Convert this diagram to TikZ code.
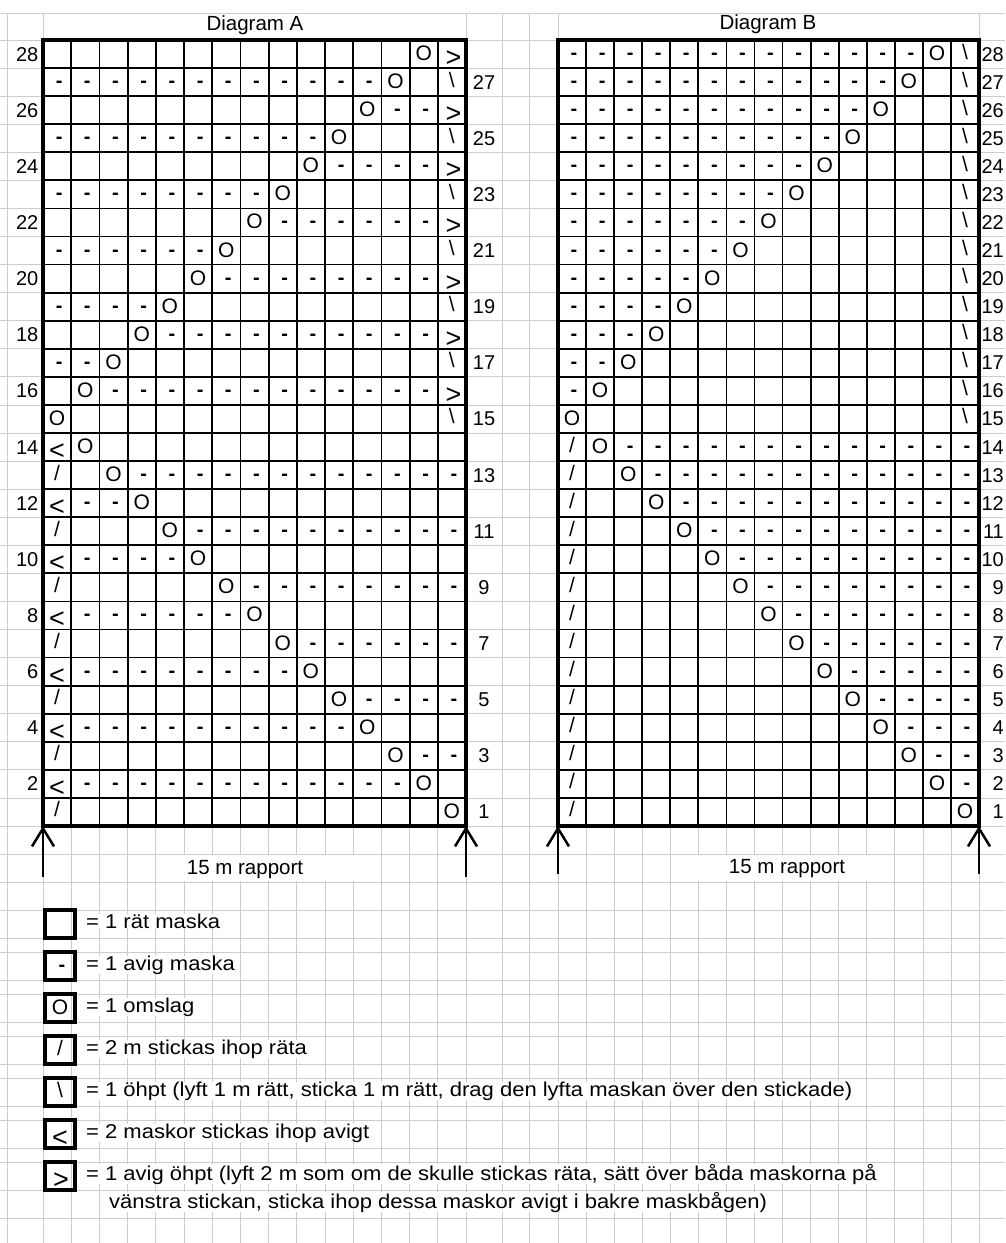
\documentclass[tikz,border=0pt]{standalone}
\usepackage{fontspec}
\setmainfont{Liberation Sans}
\newfontfamily\legfont[FakeStretch=1.1]{Liberation Sans}
\usetikzlibrary{arrows.meta}
\begin{document}
\begin{tikzpicture}[x=1pt,y=-1pt,
  bgline/.style={draw=black!20,line width=0.7pt},
  cellline/.style={line width=1.8pt},
  chartframe/.style={line width=4pt},
  symo/.style={inner sep=0pt,anchor=base,font=\fontsize{21}{21}\selectfont},
  symdash/.style={inner sep=0pt,anchor=base,font=\fontsize{20}{20}\selectfont\bfseries},
  symbig/.style={inner sep=0pt,anchor=base,font=\fontsize{27}{27}\selectfont},
  rowlbl/.style={inner sep=0pt,font=\fontsize{20}{20}\selectfont},
  titletxt/.style={inner sep=0pt,anchor=base,font=\fontsize{20.5}{20.5}\selectfont},
  legtxt/.style={inner sep=0pt,anchor=base west,font=\legfont\fontsize{20}{20}\selectfont,fill=white},
  legbox/.style={draw,line width=3.5pt,minimum width=30pt,minimum height=28pt,inner sep=0pt},
  repeatarrow/.style={line width=2.5pt,-{Straight Barb[length=18pt,width=22pt]}},
]
\useasboundingbox (0,0) rectangle (1005,1243);
\fill[white] (0,0) rectangle (1005,1243);
% ---------- background graph paper ----------
\foreach \x in {7,502,529} \draw[bgline] (\x,13) -- (\x,1243);
\foreach \x in {43,466,558,979} \draw[bgline] (\x,13) -- (\x,40);
\foreach \k in {0,...,15}{
  \draw[bgline] ({43+\k*28.2},40) -- ({43+\k*28.2},1243);
  \draw[bgline] ({558+\k*28.07},40) -- ({558+\k*28.07},1243);
}
\draw[bgline] (0,13) -- (1005,13);
\foreach \k in {0,...,28} \draw[bgline] (0,{40+\k*28.07}) -- (1005,{40+\k*28.07});
\foreach \y in {854,882,910,938,952,980,994,1022,1036,1064,1078,1106,1120,1148,1162,1190,1218}
  \draw[bgline] (0,\y) -- (1005,\y);
\fill[white] (156.5,854.6) rectangle (380.8,881.4);
\fill[white] (670.8,854.6) rectangle (894.3,881.4);
% ---------- titles ----------
\node[titletxt] (titleA) at (255,30.5) {Diagram A};
\node[titletxt] (titleB) at (768,29.5) {Diagram B};
% ---------- chart grids ----------
\foreach \k in {1,...,14}{
  \draw[cellline] ({43+\k*28.2},40) -- ({43+\k*28.2},826);
  \draw[cellline] ({558+\k*28.07},40) -- ({558+\k*28.07},826);
}
\foreach \k in {1,...,27}{
  \draw[cellline] (43,{40+\k*28.07}) -- (466,{40+\k*28.07});
  \draw[cellline] (558,{40+\k*28.07}) -- (979,{40+\k*28.07});
}
\draw[chartframe] (43,40) rectangle (466,826);
\draw[chartframe] (558,40) rectangle (979,826);
% ---------- Diagram A symbols ----------
\foreach \rr in {1,...,28}{
  \pgfmathsetmacro\yb{40+(29-\rr)*28.07}
  \foreach \cc in {1,...,15}{
    \pgfmathsetmacro\xc{43+(\cc-0.5)*28.2}
    \ifnum\rr>14\relax
      \pgfmathtruncatemacro\oc{\rr-14}
      \ifnum\cc=\oc\relax \node[symo] (A-\rr-\cc) at (\xc,\yb-7.5) {O};
      \else\ifnum\cc=15\relax
        \ifodd\rr\relax \node[symo] (A-\rr-\cc) at (\xc,\yb-9) {\textbackslash};
        \else \node[symbig] (A-\rr-\cc) at (\xc+1.5,\yb-1.5) {>};\fi
      \else
        \ifodd\rr\relax
          \ifnum\cc<\oc\relax \node[symdash] (A-\rr-\cc) at (\xc+2,\yb-8.5) {-};\fi
        \else
          \ifnum\cc>\oc\relax \node[symdash] (A-\rr-\cc) at (\xc+2,\yb-8.5) {-};\fi
        \fi
      \fi\fi
    \else
      \pgfmathtruncatemacro\oc{16-\rr}
      \ifnum\cc=\oc\relax \node[symo] (A-\rr-\cc) at (\xc,\yb-7.5) {O};
      \else\ifnum\cc=1\relax
        \ifodd\rr\relax \node[symo] (A-\rr-\cc) at (\xc,\yb-9) {/};
        \else \node[symbig] (A-\rr-\cc) at (\xc,\yb-1.5) {<};\fi
      \else
        \ifodd\rr\relax
          \ifnum\cc>\oc\relax \node[symdash] (A-\rr-\cc) at (\xc+2,\yb-8.5) {-};\fi
        \else
          \ifnum\cc<\oc\relax \node[symdash] (A-\rr-\cc) at (\xc+2,\yb-8.5) {-};\fi
        \fi
      \fi\fi
    \fi
  }
  \ifodd\rr\relax
    \node[rowlbl,anchor=base] (Alab-\rr) at (484,\yb-7) {\rr};
  \else
    \node[rowlbl,anchor=base east] (Alab-\rr) at (38.5,\yb-7) {\rr};
  \fi
}
% ---------- Diagram B symbols ----------
\foreach \rr in {1,...,28}{
  \pgfmathsetmacro\yb{40+(29-\rr)*28.07}
  \foreach \cc in {1,...,15}{
    \pgfmathsetmacro\xc{558+(\cc-0.5)*28.07}
    \ifnum\rr>14\relax
      \pgfmathtruncatemacro\oc{\rr-14}
      \ifnum\cc=\oc\relax \node[symo] (B-\rr-\cc) at (\xc,\yb-7.5) {O};
      \else\ifnum\cc=15\relax
        \node[symo] (B-\rr-\cc) at (\xc,\yb-9) {\textbackslash};
      \else
        \ifnum\cc<\oc\relax \node[symdash] (B-\rr-\cc) at (\xc+2,\yb-8.5) {-};\fi
      \fi\fi
    \else
      \pgfmathtruncatemacro\oc{16-\rr}
      \ifnum\cc=\oc\relax \node[symo] (B-\rr-\cc) at (\xc,\yb-7.5) {O};
      \else\ifnum\cc=1\relax
        \node[symo] (B-\rr-\cc) at (\xc,\yb-9) {/};
      \else
        \ifnum\cc>\oc\relax \node[symdash] (B-\rr-\cc) at (\xc+2,\yb-8.5) {-};\fi
      \fi\fi
    \fi
  }
  \node[rowlbl,anchor=base east] (Blab-\rr) at (1004,\yb-7) {\rr};
}
% ---------- repeat arrows ----------
\coordinate (Atl) at (43,826);   \coordinate (Abl) at (43,877);
\coordinate (Atr) at (466,826);  \coordinate (Abr) at (466,877);
\coordinate (Btl) at (558,826);  \coordinate (Bbl) at (558,874);
\coordinate (Btr) at (979,826);  \coordinate (Bbr) at (979,874);
\draw[repeatarrow] (Abl) -- (Atl);
\draw[repeatarrow] (Abr) -- (Atr);
\draw[repeatarrow] (Bbl) -- (Btl);
\draw[repeatarrow] (Bbr) -- (Btr);
\node[titletxt] (repA) at (245,874) {15 m rapport};
\node[titletxt] (repB) at (787,873) {15 m rapport};
% ---------- legend ----------
\node[legbox] (L1) at (60,924) {};
\node[legbox] (L2) at (60,966) {};
\node[legbox] (L3) at (60,1008) {};
\node[legbox] (L4) at (60,1050) {};
\node[legbox] (L5) at (60,1092) {};
\node[legbox] (L6) at (60,1134) {};
\node[legbox] (L7) at (60,1176) {};
\node[symdash] (L2s) at (62,971.5) {-};
\node[symo] (L3s) at (60,1014.5) {O};
\node[symo] (L4s) at (60,1055) {/};
\node[symo] (L5s) at (60,1097) {\textbackslash};
\node[symbig] (L6s) at (60,1146.5) {<};
\node[symbig] (L7s) at (61,1188.5) {>};
\node[legtxt] (T1) at (86,928) {= 1 rät maska};
\node[legtxt] (T2) at (86,970) {= 1 avig maska};
\node[legtxt] (T3) at (86,1012) {= 1 omslag};
\node[legtxt] (T4) at (86,1054) {= 2 m stickas ihop räta};
\node[legtxt] (T5) at (86,1096) {= 1 öhpt (lyft 1 m rätt, sticka 1 m rätt, drag den lyfta maskan över den stickade)};
\node[legtxt] (T6) at (86,1138) {= 2 maskor stickas ihop avigt};
\node[legtxt] (T7) at (86,1180) {= 1 avig öhpt (lyft 2 m som om de skulle stickas räta, sätt över båda maskorna på};
\node[legtxt] (T7b) at (109,1208) {vänstra stickan, sticka ihop dessa maskor avigt i bakre maskbågen)};
\end{tikzpicture}
\end{document}
